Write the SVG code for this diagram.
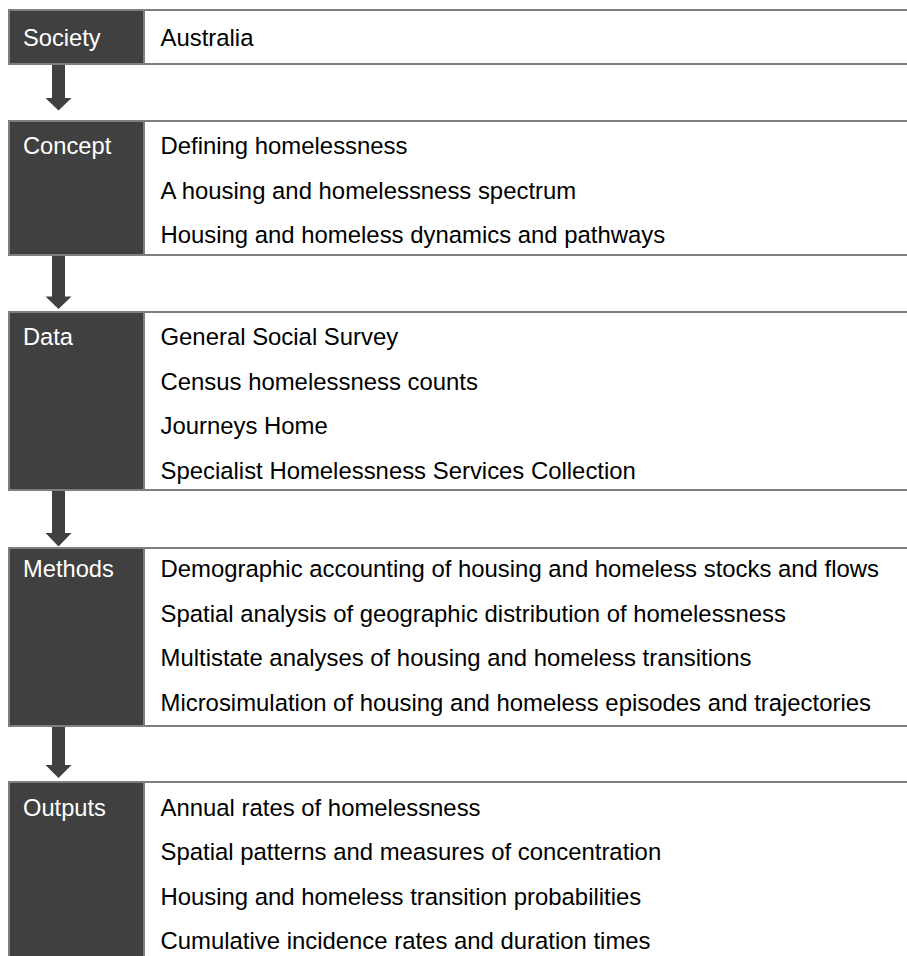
<svg xmlns="http://www.w3.org/2000/svg" width="907" height="956" viewBox="0 0 907 956">
<style>
.lab{fill:#404040;stroke:#7f7f7f;stroke-width:2}
.cell{fill:#ffffff;stroke:#7f7f7f;stroke-width:2}
.lt{font-family:"Liberation Sans",Arial,sans-serif;font-size:23.7px;fill:#ffffff}
.it{font-family:"Liberation Sans",Arial,sans-serif;font-size:23.9px;fill:#000000}
.arr{fill:#404040}
</style>
<rect width="907" height="956" fill="#ffffff"/>
<g id="society">
<rect class="cell" x="144" y="10" width="770" height="54"/>
<rect class="lab" x="9" y="10" width="135" height="54"/>
<text class="lt" x="23" y="45.5">Society</text>
<text class="it" x="160.5" y="45.5">Australia</text>
</g>
<g id="concept">
<rect class="cell" x="144" y="121" width="770" height="134"/>
<rect class="lab" x="9" y="121" width="135" height="134"/>
<text class="lt" x="23" y="154">Concept</text>
<text class="it" x="160.5" y="154">Defining homelessness</text>
<text class="it" x="160.5" y="198.5">A housing and homelessness spectrum</text>
<text class="it" x="160.5" y="243">Housing and homeless dynamics and pathways</text>
</g>
<g id="data">
<rect class="cell" x="144" y="312" width="770" height="178"/>
<rect class="lab" x="9" y="312" width="135" height="178"/>
<text class="lt" x="23" y="345">Data</text>
<text class="it" x="160.5" y="345">General Social Survey</text>
<text class="it" x="160.5" y="389.5">Census homelessness counts</text>
<text class="it" x="160.5" y="434">Journeys Home</text>
<text class="it" x="160.5" y="478.5">Specialist Homelessness Services Collection</text>
</g>
<g id="methods">
<rect class="cell" x="144" y="548" width="770" height="178"/>
<rect class="lab" x="9" y="548" width="135" height="178"/>
<text class="lt" x="23" y="577">Methods</text>
<text class="it" x="160.5" y="577">Demographic accounting of housing and homeless stocks and flows</text>
<text class="it" x="160.5" y="621.5">Spatial analysis of geographic distribution of homelessness</text>
<text class="it" x="160.5" y="666">Multistate analyses of housing and homeless transitions</text>
<text class="it" x="160.5" y="710.5">Microsimulation of housing and homeless episodes and trajectories</text>
</g>
<g id="outputs">
<rect class="cell" x="144" y="782" width="770" height="190"/>
<rect class="lab" x="9" y="782" width="135" height="190"/>
<text class="lt" x="23" y="815.5">Outputs</text>
<text class="it" x="160.5" y="815.5">Annual rates of homelessness</text>
<text class="it" x="160.5" y="860">Spatial patterns and measures of concentration</text>
<text class="it" x="160.5" y="904.5">Housing and homeless transition probabilities</text>
<text class="it" x="160.5" y="949">Cumulative incidence rates and duration times</text>
</g>
<g id="connectors">
<polygon class="arr" points="52,65 65,65 65,98 71.5,98 58.5,110.5 45.5,98 52,98"/>
<polygon class="arr" points="52,256 65,256 65,296.5 71.5,296.5 58.5,309 45.5,296.5 52,296.5"/>
<polygon class="arr" points="52,491 65,491 65,533 71.5,533 58.5,546.5 45.5,533 52,533"/>
<polygon class="arr" points="52,727 65,727 65,765 71.5,765 58.5,778 45.5,765 52,765"/>
</g>
</svg>
